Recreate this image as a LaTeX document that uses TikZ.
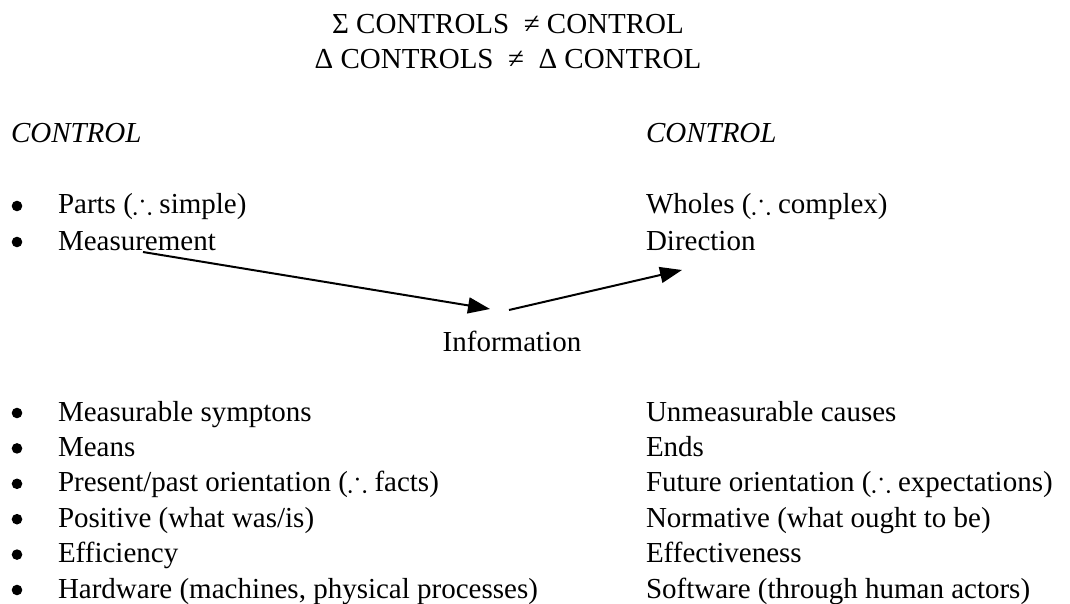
\documentclass[tikz,border=0pt]{standalone}
\usepackage{fontspec}
\usepackage{amssymb}
\setmainfont{Liberation Serif}
\usetikzlibrary{arrows.meta}

\tikzset{
  txt/.style={anchor=base west, inner sep=0pt, outer sep=0pt,
    font=\fontsize{14.5pt}{17pt}\selectfont},
  ctxt/.style={txt, anchor=base},
  hdr/.style={txt, font=\fontsize{14.5pt}{17pt}\selectfont\itshape},
  bul/.style={circle, fill=black, inner sep=0pt, minimum size=5.3pt},
  flow/.style={line width=1pt, -{Triangle[length=11pt,width=8pt]}}
}
\newcommand{\thf}{\ensuremath{\therefore}}

\begin{document}
\begin{tikzpicture}[x=0.5pt, y=-0.5pt]
  \useasboundingbox (0,0) rectangle (1070,604);

  % title lines
  \node[ctxt] (t1) at (508,34) {Σ CONTROLS\ \ ≠ CONTROL};
  \node[ctxt] (t2) at (508,69) {Δ CONTROLS\ \ ≠\ \ Δ CONTROL};

  % column headings
  \node[hdr] (hl) at (11,143) {CONTROL};
  \node[hdr] (hr) at (646,143) {CONTROL};

  % upper list
  \node[bul] (b1) at (17,206) {};
  \node[bul] (b2) at (17,242) {};
  \node[txt] (l1) at (58,214) {Parts (\thf\ simple)};
  \node[txt] (l2) at (58,250) {Measurement};
  \node[txt] (r1) at (646,214) {Wholes (\thf\ complex)};
  \node[txt] (r2) at (646,250) {Direction};

  % centre label and the two arrows through it
  \node[ctxt] (info) at (512,351) {Information};
  \coordinate (a1s) at (143,252);
  \coordinate (a1e) at (490,309);
  \coordinate (a2s) at (509,310);
  \coordinate (a2e) at (682,270);
  \draw[flow] (a1s) -- (a1e);
  \draw[flow] (a2s) -- (a2e);

  % lower list
  \foreach \i/\lt/\rt in {
      0/{Measurable symptons}/{Unmeasurable causes},
      1/{Means}/{Ends},
      2/{Present/past orientation (\thf\ facts)}/{Future orientation (\thf\ expectations)},
      3/{Positive (what was/is)}/{Normative (what ought to be)},
      4/{Efficiency}/{Effectiveness},
      5/{Hardware (machines, physical processes)}/{Software (through human actors)}} {
    \node[bul] (lb\i) at (17,{413+35.4*\i}) {};
    \node[txt] (ll\i) at (58,{421+35.4*\i}) {\lt};
    \node[txt] (lr\i) at (646,{421+35.4*\i}) {\rt};
  }
\end{tikzpicture}
\end{document}
